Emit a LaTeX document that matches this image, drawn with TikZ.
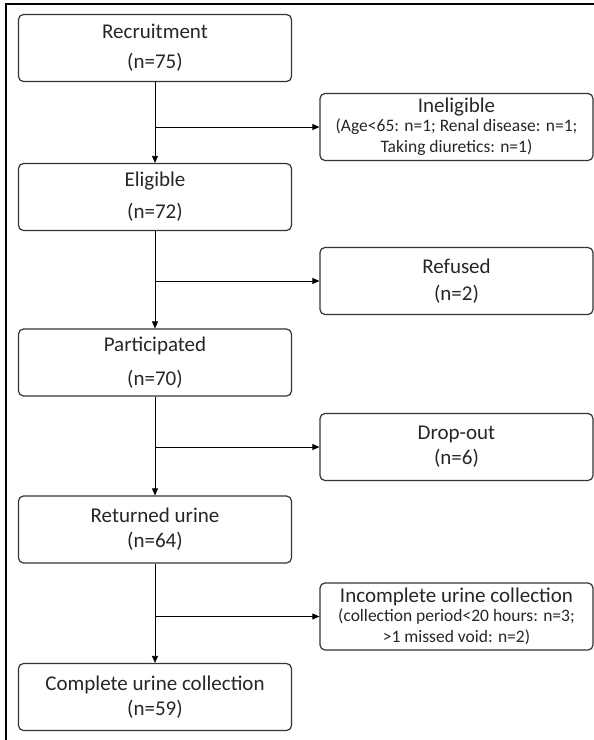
\documentclass[tikz,border=0pt]{standalone}
\usepackage{fontspec}
\setmainfont{Carlito}
\usetikzlibrary{arrows.meta}
\newcommand{\subline}[1]{{\fontsize{17.5}{20}\selectfont #1}}

\tikzset{
	stagebox/.style={draw=black!80, line width=1.2pt, rounded corners=5pt,
		minimum width=273pt, minimum height=67pt, inner sep=0pt,
		align=center, text=black!85, font=\fontsize{21}{25}\selectfont},
	flow/.style={line width=0.8pt, -{Triangle[length=7pt,width=6pt]}}
}

\begin{document}
\begin{tikzpicture}[x=1pt, y=-1pt]
		%%%%% START %%%%%
		\useasboundingbox (0,0) rectangle (594,740);
		\draw[line width=2pt] (6,740) -- (6,4) -- (594,4);
		
		% main column
		\node[stagebox] (recruit) at (155,48) {Recruitment\\[5pt](n=75)};
		\node[stagebox] (eligible) at (155,197) {Eligible\\[7pt](n=72)};
		\node[stagebox] (particip) at (155,362.5) {Participated\\[9pt](n=70)};
		\node[stagebox] (returned) at (155,529.5) {Returned urine\\(n=64)};
		\node[stagebox] (complete) at (155,697) {Complete urine collection\\(n=59)};
		
		% exclusions
		\node[stagebox] (inelig) at (456.5,127) {Ineligible\\[-6pt]\subline{(Age<65: n=1; Renal disease: n=1;}\\[-4pt]\subline{Taking diuretics: n=1)}};
		\node[stagebox] (refused) at (456.5,281) {Refused\\[2pt](n=2)};
		\node[stagebox] (dropout) at (456.5,447) {Drop-out\\(n=6)};
		\node[stagebox] (incompl) at (456.5,616.5) {Incomplete urine collection\\[-6pt]\subline{(collection period<20 hours: n=3;}\\[-4pt]\subline{>1 missed void: n=2)}};
		
		\draw[flow] (recruit.south) -- (eligible.north);
		\draw[flow] (eligible.south) -- (particip.north);
		\draw[flow] (particip.south) -- (returned.north);
		\draw[flow] (returned.south) -- (complete.north);
		
		\draw[flow] (inelig.west -| recruit.south) -- (inelig.west);
		\draw[flow] (refused.west -| eligible.south) -- (refused.west);
		\draw[flow] (dropout.west -| particip.south) -- (dropout.west);
		\draw[flow] (incompl.west -| returned.south) -- (incompl.west);
		%%%%% END %%%%%
\end{tikzpicture}
\end{document}
